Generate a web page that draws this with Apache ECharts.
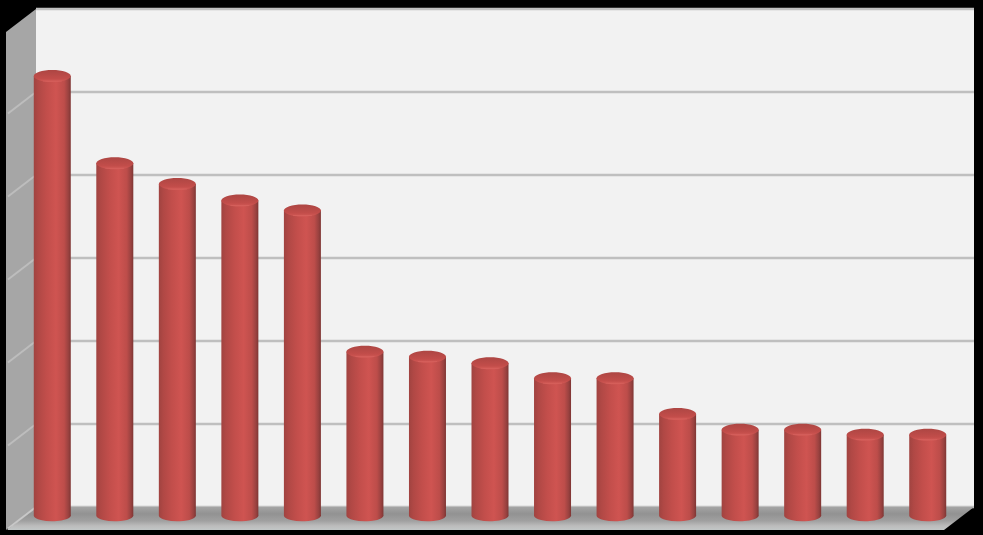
<!DOCTYPE html>
<html>
<head>
<meta charset="utf-8">
<style>html,body{margin:0;padding:0;background:#000}#c{width:983px;height:535px}</style>
<script src="https://cdn.jsdelivr.net/npm/echarts@6/dist/echarts.min.js"></script>
</head>
<body>
<div id="c"></div>
<script>
const categories = ['1','2','3','4','5','6','7','8','9','10','11','12','13','14','15'];
const values = [5.30,4.25,4.00,3.80,3.68,1.98,1.92,1.84,1.66,1.66,1.23,1.04,1.04,0.98,0.98];
const wallTicks = [1,2,3,4,5];
const yMax = 6;

const depthX = -30, depthY = 23;

function renderWalls(params, api) {
  const left = params.coordSys.x, right = left + params.coordSys.width;
  const top = params.coordSys.y, bottom = top + params.coordSys.height;
  const children = [
    { type: 'polygon', shape: { points: [[left, top], [left, bottom], [left + depthX, bottom + depthY], [left + depthX, top + depthY]] },
      style: { fill: '#a6a6a6' } },
    { type: 'polygon', shape: { points: [[left, bottom], [right, bottom], [right + depthX, bottom + depthY], [left + depthX + 1, bottom + depthY]] },
      style: { fill: { type: 'linear', x: 0, y: 0, x2: 0, y2: 1, colorStops: [
        { offset: 0, color: '#a4a4a4' }, { offset: 0.3, color: '#929292' }, { offset: 0.6, color: '#a0a0a0' },
        { offset: 0.82, color: '#bcbcbc' }, { offset: 1, color: '#c2c6c6' } ] } } }
  ];
  wallTicks.forEach(t => {
    const y = api.coord([0, t])[1];
    children.push({ type: 'line', shape: { x1: left, y1: y, x2: left + depthX + 2, y2: y + depthY - 1.5 },
      style: { stroke: '#bdbdbd', lineWidth: 2 } });
  });
  children.push({ type: 'line', shape: { x1: left, y1: bottom, x2: left + depthX + 2, y2: bottom + depthY - 1.5 }, style: { stroke: '#c8c8c8', lineWidth: 2 } });
  return { type: 'group', children };
}

const bodyFill = { type: 'linear', x: 0, y: 0, x2: 1, y2: 0, colorStops: [
  { offset: 0, color: '#a04340' }, { offset: 0.12, color: '#b04845' }, { offset: 0.35, color: '#c24e4b' },
  { offset: 0.6, color: '#cf5451' }, { offset: 0.82, color: '#bd4d4a' }, { offset: 0.93, color: '#9a4240' }, { offset: 1, color: '#7d3533' } ] };
const topFill = { type: 'linear', x: 0, y: 1, x2: 0, y2: 0, colorStops: [
  { offset: 0, color: '#d45b57' }, { offset: 0.3, color: '#c24d4a' }, { offset: 1, color: '#ad4643' } ] };

function renderBar(params, api) {
  const x = api.value(0), v = api.value(1);
  const topP = api.coord([x, v]), botP = api.coord([x, 0]);
  const w = 37, ry = 6, rx = w / 2, cx = topP[0];
  return { type: 'group', children: [
    { type: 'path', shape: { pathData: `M${cx - rx} ${topP[1]} L${cx - rx} ${botP[1]} A${rx} ${ry} 0 0 0 ${cx + rx} ${botP[1] - 1.5} L${cx + rx} ${topP[1]} Z` }, style: { fill: bodyFill } },
    { type: 'ellipse', shape: { cx: cx, cy: topP[1], rx: rx, ry: ry }, style: { fill: topFill } },
    { type: 'line', shape: { x1: cx - rx + 9, y1: topP[1] + ry - 1, x2: cx + rx - 9, y2: topP[1] + ry - 1 }, style: { stroke: '#dd6a65', lineWidth: 1, opacity: 0.5 } }
  ] };
}

const chart = echarts.init(document.getElementById('c'), null, { renderer: 'canvas' });
chart.setOption({
  animation: false,
  backgroundColor: '#000',
  grid: [
    { left: 36, top: 9, width: 938, height: 498, show: true, backgroundColor: '#f2f2f2', borderWidth: 0 },
    { left: 21, top: 18, width: 938, height: 498, show: false }
  ],
  xAxis: [
    { gridIndex: 0, type: 'category', data: categories, show: false },
    { gridIndex: 1, type: 'category', data: categories, show: false }
  ],
  yAxis: [
    { gridIndex: 0, type: 'value', min: 0, max: yMax, interval: 1, axisLabel: { show: false }, axisTick: { show: false }, axisLine: { show: false },
      splitLine: { show: true, lineStyle: { color: '#bfbfbf', width: 2.4 } } },
    { gridIndex: 1, type: 'value', min: 0, max: yMax, interval: 1, show: false, splitLine: { show: false } }
  ],
  series: [
    { type: 'custom', name: 'walls', xAxisIndex: 0, yAxisIndex: 0, data: [[0, 0]], renderItem: renderWalls, clip: false, silent: true, z: 2 },
    { type: 'custom', name: 'values', xAxisIndex: 1, yAxisIndex: 1, data: values.map((v, i) => [i, v]), renderItem: renderBar, clip: false, z: 5, encode: { x: 0, y: 1 } }
  ]
});
</script>
</body>
</html>
